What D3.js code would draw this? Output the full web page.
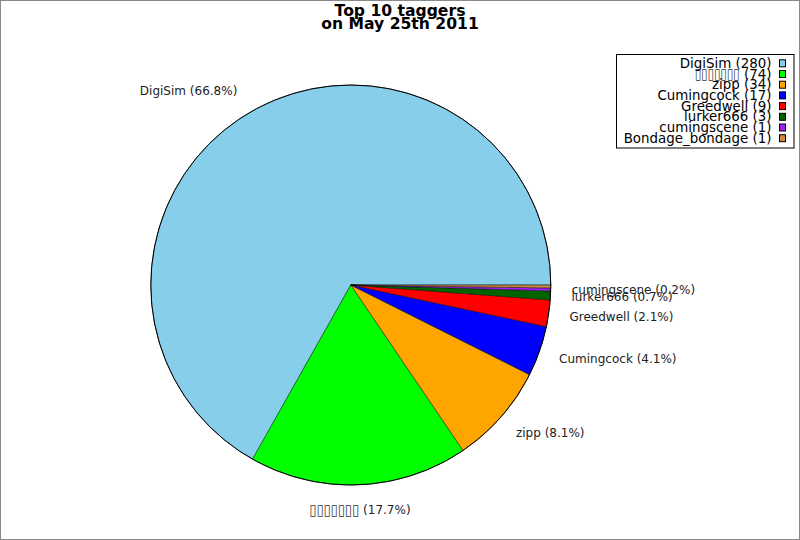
<!DOCTYPE html>
<html><head><meta charset="utf-8">
<script src="https://cdn.jsdelivr.net/npm/d3@7"></script>
<style>body{margin:0;background:#fff}svg{display:block;font-family:"DejaVu Sans",sans-serif}</style>
</head><body>
<script>
const names = ["DigiSim","\u25AF\u25AF\u25AF\u25AF\u25AF\u25AF\u25AF","zipp","Cumingcock","Greedwell","lurker666","cumingscene","Bondage_bondage"];
const values = [280,74,34,17,9,3,1,1];
const colors = ["#87CEEB","#00FF00","#FFA500","#0000FF","#FF0000","#006400","#A020F0","#CD853F"];
const showLabel = [true,true,true,true,true,true,true,false];
const titleLines = ["Top 10 taggers","on May 25th 2011"];

const W=800,H=540, cx=350.8, cy=285, R=200, LR=225;
const svg=d3.select("body").append("svg").attr("width",W).attr("height",H);
svg.append("rect").attr("x",0.5).attr("y",0.5).attr("width",W-1).attr("height",H-1).attr("fill","#fff").attr("stroke","#8a8a8a");

const data = names.map((n,i)=>({name:n,value:values[i],color:colors[i],show:showLabel[i]}));
const total = d3.sum(values);
const pie = d3.pie().value(d=>d.value).sort(null).startAngle(Math.PI/2).endAngle(Math.PI/2-2*Math.PI);
const arcs = pie(data);
const arc = d3.arc().innerRadius(0).outerRadius(R);
const g = svg.append("g").attr("transform",`translate(${cx},${cy})`);
g.selectAll("path").data(arcs).join("path").attr("d",arc).attr("fill",d=>d.data.color).attr("stroke","#000").attr("stroke-width",0.45);
g.append("circle").attr("r",R).attr("fill","none").attr("stroke","#000").attr("stroke-width",1);

const boxRe = /^\u25AF+$/;
function addText(sel, name, suffix, boxW, boxFs){
  if(boxRe.test(name)){
    sel.append("tspan").attr("font-size",boxFs).attr("fill","#333").attr("textLength", boxW*name.length).attr("lengthAdjust","spacingAndGlyphs").text(name);
    sel.append("tspan").text(" "+suffix);
  } else sel.text(name+" "+suffix);
}

const fmt = d3.format(".1f");
arcs.filter(d=>d.data.show).forEach(d=>{
  const a=(d.startAngle+d.endAngle)/2;
  const s=Math.sin(a), c=Math.cos(a);
  let x=cx+LR*s, y=cy-LR*c;
  let anchor = s>0.2?"start":(s<-0.2?"end":"middle");
  if(anchor==="start") x-=4;
  const t=svg.append("text").attr("x",x).attr("y",y).attr("text-anchor",anchor)
    .attr("dominant-baseline","central").attr("font-size",12).attr("fill","#222");
  addText(t,d.data.name,"("+fmt(d.data.value/total*100)+"%)",7.1,15);
});

// title
svg.selectAll("text.title").data(titleLines).join("text").attr("class","title")
  .attr("x",400).attr("y",(d,i)=>16+i*13).attr("text-anchor","middle")
  .attr("font-size",15.6).attr("font-weight","bold").text(d=>d);

// legend
const lx0=616.5, ly0=54.5, lx1=794, ly1=148, rowH=10.7, row0=63.3;
svg.append("rect").attr("x",lx0).attr("y",ly0).attr("width",lx1-lx0).attr("height",ly1-ly0).attr("fill","#fff").attr("stroke","#000");
data.forEach((d,i)=>{
  const y=row0+i*rowH;
  const t=svg.append("text").attr("x",771.5).attr("y",y).attr("text-anchor","end").attr("dominant-baseline","central").attr("font-size",13.4).attr("fill","#000");
  addText(t,d.name,"("+d.value+")",6.4,15);
  svg.append("rect").attr("x",779.5).attr("y",y-3.5).attr("width",6).attr("height",7).attr("fill",d.color).attr("stroke","#000");
});
</script>
</body></html>
